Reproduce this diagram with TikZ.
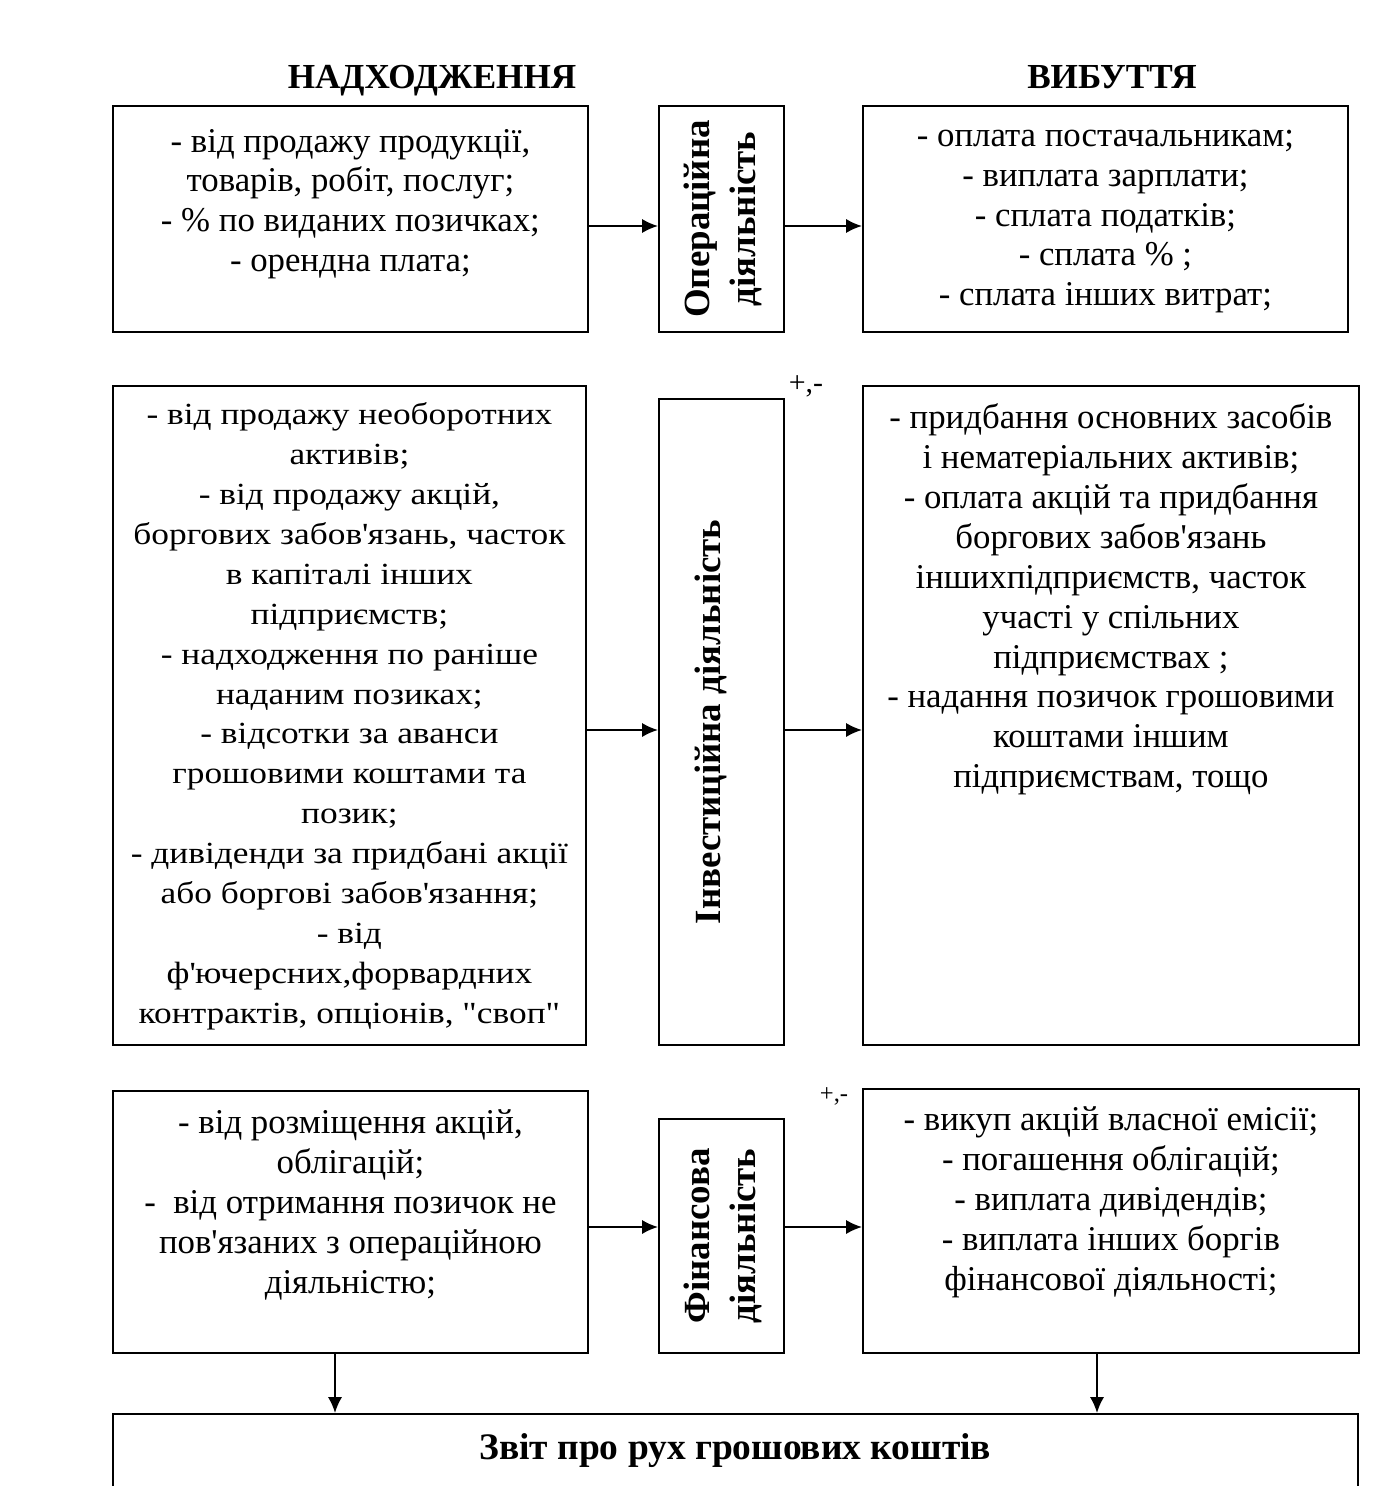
\documentclass[tikz,border=0pt]{standalone}
\usepackage{fontspec}
\setmainfont{Liberation Serif}
\newfontfamily\widefont[FakeStretch=1.15]{Liberation Serif}
\usepackage{tikz}
\usetikzlibrary{calc,arrows.meta,positioning}
\newcommand{\qs}{\textquotesingle}
\tikzset{blk/.style={draw,line width=1.1pt,inner sep=0pt,anchor=north west},txt/.style={align=center,inner
sep=0pt,font=\fontsize{19.8}{22.7}\selectfont},vtxt/.style={rotate=90,align=center,inner
sep=0pt,font=\bfseries\fontsize{21}{26}\selectfont}}

\begin{document}
\begin{tikzpicture}[x=0.02cm,y=-0.02cm,head/.style={inner sep=0pt,anchor=base,font=\bfseries\fontsize{20}{22}\selectfont},sgn/.style={inner sep=0pt,font=\fontsize{14}{16}\selectfont},flow/.style={-{Latex[length=9pt,width=8pt]},line width=1.1pt}]
		\clip (0,0) rectangle (1389,1486);
		\node[head] (inHead) at (432,89) {НАДХОДЖЕННЯ};
		\node[head] (outHead) at (1112,89) {ВИБУТТЯ};

		% operating row
		\node[blk,minimum width=9.5cm,minimum height=4.52cm] (inOp) at (112,105) {};
		\node[blk,minimum width=2.5cm,minimum height=4.52cm] (oper) at (658,105) {};
		\node[blk,minimum width=9.7cm,minimum height=4.52cm] (outOp) at (862,105) {};
		\node[txt,below=13.5pt of inOp.north] (tInOp) {- від продажу продукції,\\товарів, робіт, послуг;\\- \% по виданих позичках;\\- орендна плата;};
		\node[vtxt] (tOper) at ($(oper.center)+(1pt,0)$) {Операційна\\діяльність};
		\node[txt,below=14pt of outOp.north] (tOutOp) {- оплата постачальникам;\\- виплата зарплати;\\- сплата податків;\\- сплата \% ;\\- сплата інших витрат;};
		\draw[flow] (inOp.east |- 0,226) -- (oper.west |- 0,226);
		\draw[flow] (oper.east |- 0,226) -- (outOp.west |- 0,226);

		% investing row
		\node[blk,minimum width=9.46cm,minimum height=13.18cm] (inInv) at (112,385) {};
		\node[blk,minimum width=2.5cm,minimum height=12.92cm] (inv) at (658,398) {};
		\node[blk,minimum width=9.92cm,minimum height=13.18cm] (outInv) at (862,385) {};
		\node[txt,font=\widefont\fontsize{17.5}{22.7}\selectfont,below=10pt of inInv.north] (tInInv) {- від продажу необоротних\\активів;\\- від продажу акцій,\\боргових забов\qs язань, часток\\в капіталі інших\\підприємств;\\- надходження по раніше\\наданим позиках;\\- відсотки за аванси\\грошовими коштами та\\позик;\\- дивіденди за придбані акції\\або боргові забов\qs язання;\\- від\\ф\qs ючерсних,форвардних\\контрактів, опціонів, "своп"};
		\node[vtxt] (tInv) at ($(inv.center)+(-6pt,0)$) {Інвестиційна діяльність};
		\node[txt,below=10.5pt of outInv.north] (tOutInv) {- придбання основних засобів\\і нематеріальних активів;\\- оплата акцій та придбання\\боргових забов\qs язань\\іншихпідприємств, часток\\участі у спільних\\підприємствах ;\\- надання позичок грошовими\\коштами іншим\\підприємствам, тощо};
		\node[sgn,font=\fontsize{17}{18}\selectfont] (sgnInv) at (806,386) {+,-};
		\draw[flow] (inInv.east |- 0,730) -- (inv.west |- 0,730);
		\draw[flow] (inv.east |- 0,730) -- (outInv.west |- 0,730);

		% financing row
		\node[blk,minimum width=9.5cm,minimum height=5.24cm] (inFin) at (112,1090) {};
		\node[blk,minimum width=2.5cm,minimum height=4.68cm] (fin) at (658,1118) {};
		\node[blk,minimum width=9.92cm,minimum height=5.28cm] (outFin) at (862,1088) {};
		\node[txt,below=11pt of inFin.north] (tInFin) {- від розміщення акцій,\\облігацій;\\-\ \ від отримання позичок не\\пов\qs язаних з операційною\\діяльністю;};
		\node[vtxt] (tFin) at ($(fin.center)+(1pt,0)$) {Фінансова\\діяльність};
		\node[txt,below=10.5pt of outFin.north] (tOutFin) {- викуп акцій власної емісії;\\- погашення облігацій;\\- виплата дивідендів;\\- виплата інших боргів\\фінансової діяльності;};
		\node[sgn] (sgnFin) at (834,1096) {+,-};
		\draw[flow] (inFin.east |- 0,1227) -- (fin.west |- 0,1227);
		\draw[flow] (fin.east |- 0,1227) -- (outFin.west |- 0,1227);

		% summary
		\node[blk,minimum width=24.9cm,minimum height=3cm] (report) at (112,1413) {};
		\node[inner sep=0pt,font=\bfseries\fontsize{21.3}{24}\selectfont,below=11.5pt of report.north] (tReport) {Звіт про рух грошових коштів};
		\draw[flow] (inFin.south -| 335,0) -- (report.north -| 335,0);
		\draw[flow] (outFin.south -| 1097,0) -- (report.north -| 1097,0);
	\end{tikzpicture}
\end{document}
